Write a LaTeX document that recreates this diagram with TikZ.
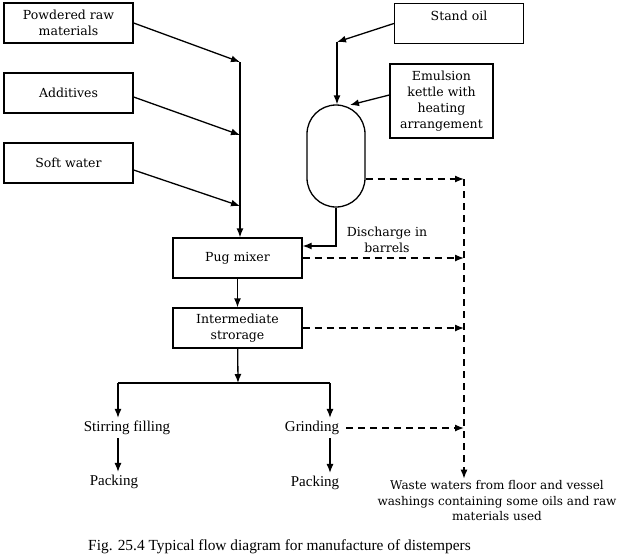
\documentclass[tikz,border=0pt]{standalone}
\usepackage{fontspec}
\setmainfont{DejaVu Serif}
\newfontfamily\timesfont{Liberation Serif}
\usetikzlibrary{arrows.meta}
\tikzset{
  stagebox/.style={draw,line width=1.3pt,minimum width=129pt,minimum height=40pt,align=center,inner sep=2pt,font=\fontsize{12.5}{16}\selectfont},
  plain/.style={inner sep=3pt,font=\timesfont\fontsize{15}{17}\selectfont},
  flow/.style={line width=1.3pt,->},
  waste/.style={line width=1.3pt,->,dash pattern=on 7pt off 5pt}
}
\begin{document}
\begin{tikzpicture}[x=1pt,y=-1pt,>={Latex[length=9pt,width=7pt]}]
\useasboundingbox (0,0) rectangle (624,557);
% feed boxes
\node[stagebox] (powder) at (68.5,23) {Powdered raw\\materials};
\node[stagebox] (addit) at (68.5,93) {Additives};
\node[stagebox] (soft) at (68.5,163) {Soft water};
\node[stagebox] (stand) at (459,23.5) {Stand oil\\\mbox{}};
\node[stagebox,minimum width=103pt,minimum height=74pt] (emuls) at (441.5,101) {Emulsion\\kettle with\\heating\\arrangement};
\node[draw,line width=1.3pt,minimum width=58pt,minimum height=102pt,rounded corners=29pt] (kettle) at (336,156) {};
% process boxes
\node[stagebox] (pug) at (237.5,258) {Pug mixer};
\node[stagebox] (inter) at (237.5,328) {Intermediate\\strorage};
\node[plain] (stir) at (127,428) {Stirring filling};
\node[plain] (pack1) at (114,482) {Packing};
\node[plain] (grind) at (312,428) {Grinding};
\node[plain] (pack2) at (315,483) {Packing};
\node[align=center,inner sep=2pt,font=\fontsize{12}{15.5}\selectfont] (wastew) at (497,501) {Waste waters from floor and vessel\\washings containing some oils and raw\\materials used};
\node[align=center,font=\fontsize{12.5}{16}\selectfont] (disch) at (387,239.5) {Discharge in\\barrels};
\node[plain,font=\timesfont\fontsize{15.4}{17}\selectfont] (caption) at (279.5,547) {Fig. 25.4 Typical flow diagram for manufacture of distempers};
% joins
\coordinate (j1) at (240,62);
\coordinate (j2) at (240,135);
\coordinate (j3) at (240,206);
\coordinate (sbend) at (337,42);
\coordinate (kin) at (350,105);
\coordinate (kbend) at (336,246);
\coordinate (split) at (238,383);
\coordinate (bl) at (118,383);
\coordinate (br) at (330,383);
\coordinate (wtop) at (464,179);
% solid flows
\draw[flow] (powder.east) -- (j1);
\draw[flow] ([yshift=-4pt]addit.east) -- (j2);
\draw[flow] ([yshift=-7pt]soft.east) -- (j3);
\draw[flow] (j1) -- (j1 |- pug.north);
\draw[flow] (stand.west) -- (sbend);
\draw[flow] (sbend) -- (sbend |- kettle.north);
\draw[flow] ([yshift=6pt]emuls.west) -- (kin);
\draw[flow] (kettle.south) -- (kbend) -- (kbend -| pug.east);
\draw[flow] (pug) -- (inter);
\draw[flow] (inter) -- (split);
\draw[line width=1.3pt] (bl) -- (br);
\draw[flow] (bl) -- (bl |- stir.north);
\draw[flow] (br) -- (br |- grind.north);
\draw[flow] (bl |- stir.south) -- (bl |- pack1.north);
\draw[flow] (br |- grind.south) -- (br |- pack2.north);
% waste flows
\draw[waste] ([yshift=-23pt]kettle.east) -- (wtop);
\draw[waste] (pug.east) -- (pug.east -| wtop);
\draw[waste] (inter.east) -- (inter.east -| wtop);
\draw[waste] ([xshift=4pt]grind.east) -- (grind.east -| wtop);
\draw[waste] (wtop) -- (wtop |- wastew.north);
\end{tikzpicture}
\end{document}
